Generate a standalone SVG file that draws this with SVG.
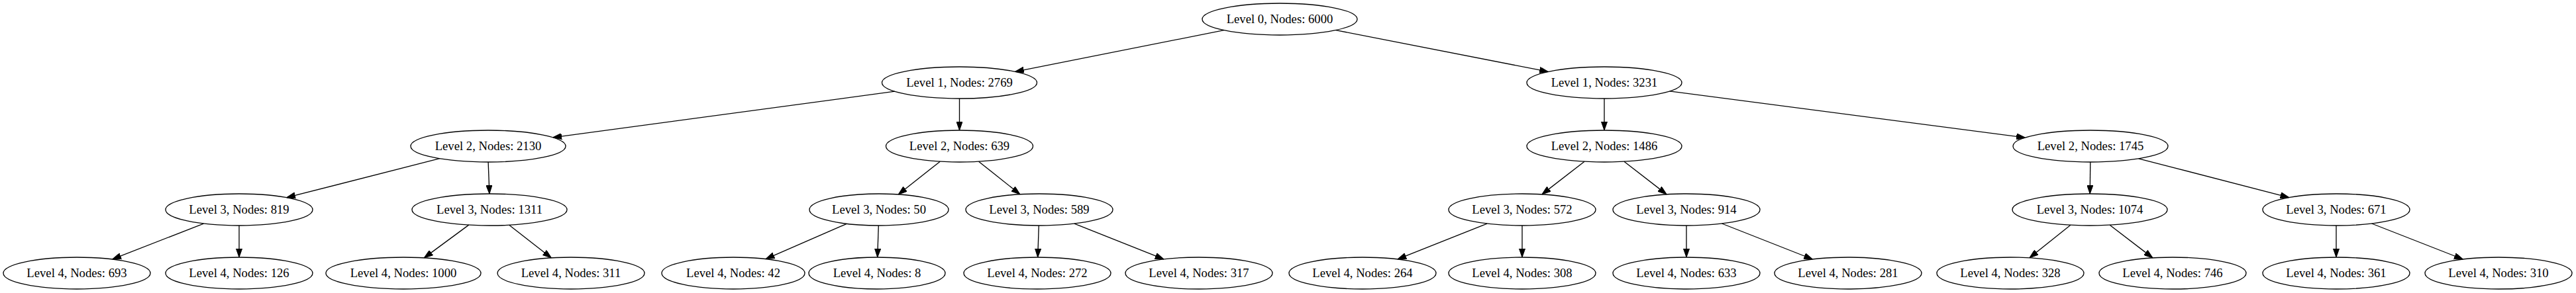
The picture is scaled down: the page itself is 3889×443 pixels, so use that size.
<svg xmlns="http://www.w3.org/2000/svg" width="3889" height="443" viewBox="0 0 3889 443">
<style>
.n ellipse{fill:none;stroke:#000;stroke-width:1.33}
.n text{font-family:"Liberation Serif","Times New Roman",serif;font-size:18.67px;text-anchor:middle;fill:#000}
#edges line{stroke:#000;stroke-width:1.33;marker-end:url(#arr)}
</style>
<defs>
<marker id="arr" viewBox="0 0 13.3 9.3" refX="13.3" refY="4.65" markerWidth="13.3" markerHeight="9.3" markerUnits="userSpaceOnUse" orient="auto">
<path d="M0,0 L13.3,4.65 L0,9.3 z" fill="#000" stroke="#000" stroke-width="1"/>
</marker>
</defs>
<rect width="3889" height="443" fill="#fff"/>
<g id="edges">
<line x1="1847.9" y1="45.7" x2="1532.6" y2="108.3"/>
<line x1="2016.6" y1="45.6" x2="2337.4" y2="108.4"/>
<line x1="1350.75" y1="138.2" x2="834.75" y2="207.8"/>
<line x1="1448.5" y1="149" x2="1448.5" y2="197"/>
<line x1="2422" y1="149" x2="2422" y2="197"/>
<line x1="2520.65" y1="137.9" x2="3057.35" y2="208.1"/>
<line x1="663.7" y1="239.7" x2="432.7" y2="298.7"/>
<line x1="737.1" y1="245" x2="738.9" y2="293"/>
<line x1="1419.2" y1="244.15" x2="1356.2" y2="293.95"/>
<line x1="1477.6" y1="244.2" x2="1539.9" y2="293.8"/>
<line x1="2392" y1="244.2" x2="2327.9" y2="293.9"/>
<line x1="2452" y1="244.2" x2="2516.1" y2="293.9"/>
<line x1="3155.8" y1="245" x2="3155.2" y2="293"/>
<line x1="3228.7" y1="239.8" x2="3455.8" y2="298.6"/>
<line x1="307.37" y1="338.01" x2="169.63" y2="391.99"/>
<line x1="361" y1="341" x2="361" y2="389"/>
<line x1="707.7" y1="340.1" x2="640.3" y2="389.9"/>
<line x1="768.7" y1="340.2" x2="832.4" y2="389.9"/>
<line x1="1278.3" y1="338.3" x2="1156" y2="391.6"/>
<line x1="1326.3" y1="341" x2="1324.7" y2="389"/>
<line x1="1568.3" y1="341" x2="1566.7" y2="389"/>
<line x1="1621.95" y1="338.1" x2="1757.05" y2="391.9"/>
<line x1="2245.05" y1="338.1" x2="2109.95" y2="391.9"/>
<line x1="2298" y1="341" x2="2298" y2="389"/>
<line x1="2546" y1="341" x2="2546" y2="389"/>
<line x1="2599.5" y1="338" x2="2736.5" y2="392"/>
<line x1="3125.9" y1="340.25" x2="3064" y2="389.8"/>
<line x1="3185.2" y1="340.2" x2="3249.9" y2="389.9"/>
<line x1="3527" y1="341" x2="3527" y2="389"/>
<line x1="3580.6" y1="338" x2="3718.4" y2="392"/>
</g>
<g id="n0" class="n"><ellipse cx="1932" cy="29" rx="117" ry="24"/><text x="1932" y="35">Level 0, Nodes: 6000</text></g>
<g id="n1" class="n"><ellipse cx="1448.5" cy="125" rx="117" ry="24"/><text x="1448.5" y="131">Level 1, Nodes: 2769</text></g>
<g id="n2" class="n"><ellipse cx="2422" cy="125" rx="117" ry="24"/><text x="2422" y="131">Level 1, Nodes: 3231</text></g>
<g id="n3" class="n"><ellipse cx="737" cy="221" rx="117" ry="24"/><text x="737" y="227">Level 2, Nodes: 2130</text></g>
<g id="n4" class="n"><ellipse cx="1448.5" cy="221" rx="111" ry="24"/><text x="1448.5" y="227">Level 2, Nodes: 639</text></g>
<g id="n5" class="n"><ellipse cx="2422" cy="221" rx="117" ry="24"/><text x="2422" y="227">Level 2, Nodes: 1486</text></g>
<g id="n6" class="n"><ellipse cx="3156" cy="221" rx="117" ry="24"/><text x="3156" y="227">Level 2, Nodes: 1745</text></g>
<g id="n7" class="n"><ellipse cx="361" cy="317" rx="111" ry="24"/><text x="361" y="323">Level 3, Nodes: 819</text></g>
<g id="n8" class="n"><ellipse cx="739" cy="317" rx="117" ry="24"/><text x="739" y="323">Level 3, Nodes: 1311</text></g>
<g id="n9" class="n"><ellipse cx="1327" cy="317" rx="105" ry="24"/><text x="1327" y="323">Level 3, Nodes: 50</text></g>
<g id="n10" class="n"><ellipse cx="1569" cy="317" rx="111" ry="24"/><text x="1569" y="323">Level 3, Nodes: 589</text></g>
<g id="n11" class="n"><ellipse cx="2298" cy="317" rx="111" ry="24"/><text x="2298" y="323">Level 3, Nodes: 572</text></g>
<g id="n12" class="n"><ellipse cx="2546" cy="317" rx="111" ry="24"/><text x="2546" y="323">Level 3, Nodes: 914</text></g>
<g id="n13" class="n"><ellipse cx="3155" cy="317" rx="117" ry="24"/><text x="3155" y="323">Level 3, Nodes: 1074</text></g>
<g id="n14" class="n"><ellipse cx="3527" cy="317" rx="111" ry="24"/><text x="3527" y="323">Level 3, Nodes: 671</text></g>
<g id="n15" class="n"><ellipse cx="116" cy="413" rx="111" ry="24"/><text x="116" y="419">Level 4, Nodes: 693</text></g>
<g id="n16" class="n"><ellipse cx="361" cy="413" rx="111" ry="24"/><text x="361" y="419">Level 4, Nodes: 126</text></g>
<g id="n17" class="n"><ellipse cx="609" cy="413" rx="117" ry="24"/><text x="609" y="419">Level 4, Nodes: 1000</text></g>
<g id="n18" class="n"><ellipse cx="862" cy="413" rx="111" ry="24"/><text x="862" y="419">Level 4, Nodes: 311</text></g>
<g id="n19" class="n"><ellipse cx="1107" cy="413" rx="108" ry="24"/><text x="1107" y="419">Level 4, Nodes: 42</text></g>
<g id="n20" class="n"><ellipse cx="1324" cy="413" rx="103" ry="24"/><text x="1324" y="419">Level 4, Nodes: 8</text></g>
<g id="n21" class="n"><ellipse cx="1566" cy="413" rx="111" ry="24"/><text x="1566" y="419">Level 4, Nodes: 272</text></g>
<g id="n22" class="n"><ellipse cx="1810" cy="413" rx="111" ry="24"/><text x="1810" y="419">Level 4, Nodes: 317</text></g>
<g id="n23" class="n"><ellipse cx="2057" cy="413" rx="111" ry="24"/><text x="2057" y="419">Level 4, Nodes: 264</text></g>
<g id="n24" class="n"><ellipse cx="2298" cy="413" rx="111" ry="24"/><text x="2298" y="419">Level 4, Nodes: 308</text></g>
<g id="n25" class="n"><ellipse cx="2546" cy="413" rx="111" ry="24"/><text x="2546" y="419">Level 4, Nodes: 633</text></g>
<g id="n26" class="n"><ellipse cx="2790" cy="413" rx="111" ry="24"/><text x="2790" y="419">Level 4, Nodes: 281</text></g>
<g id="n27" class="n"><ellipse cx="3035" cy="413" rx="111" ry="24"/><text x="3035" y="419">Level 4, Nodes: 328</text></g>
<g id="n28" class="n"><ellipse cx="3280" cy="413" rx="111" ry="24"/><text x="3280" y="419">Level 4, Nodes: 746</text></g>
<g id="n29" class="n"><ellipse cx="3527" cy="413" rx="111" ry="24"/><text x="3527" y="419">Level 4, Nodes: 361</text></g>
<g id="n30" class="n"><ellipse cx="3772" cy="413" rx="111" ry="24"/><text x="3772" y="419">Level 4, Nodes: 310</text></g>
</svg>
